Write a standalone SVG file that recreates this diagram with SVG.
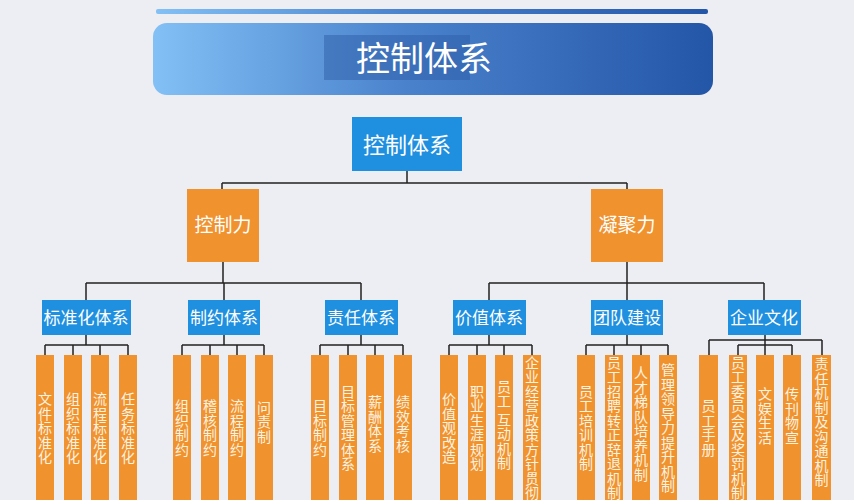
<svg xmlns="http://www.w3.org/2000/svg" width="854" height="500" viewBox="0 0 854 500">
<defs>
<linearGradient id="g" x1="0" x2="1" y1="0" y2="0"><stop offset="0" stop-color="#82c0f5"/><stop offset="0.45" stop-color="#4a82cc"/><stop offset="1" stop-color="#2456a8"/></linearGradient>
<style>
.b{fill:#1f8fe0}.o{fill:#f0922e}
.t{font-family:"Noto Sans CJK SC",sans-serif;fill:#fff;text-anchor:middle}
.l{font-family:"Noto Sans CJK SC",sans-serif;fill:#fdf3e0;font-size:14px;writing-mode:vertical-rl;text-anchor:middle;letter-spacing:0.5px}
.c{stroke:#222;stroke-width:1.5;fill:none}
</style>
</defs>
<rect width="854" height="500" fill="#eceef3"/>
<rect x="156" y="9" width="552" height="5" rx="2" fill="url(#g)"/>
<rect x="153" y="23" width="560" height="72" rx="14" fill="url(#g)"/>
<rect x="324" y="35" width="146" height="45" fill="#2d5ea8" opacity="0.5"/>
<text class="t" x="424" y="71" font-size="34">控制体系</text>
<g id="connectors" class="c">
<path d="M407 171V183M222 183H627M222 183V189M627 183V189"/>
<path d="M223 262V283M86 283H361M86 283V300M224 283V300M361 283V300"/>
<path d="M627 262V283M489 283H764M489 283V300M627 283V300M764 283V300"/>
<path d="M86 335V345M45 345H128M45 345V355M73 345V355M100 345V355M128 345V355"/>
<path d="M224 335V345M182 345H264M182 345V355M210 345V355M237 345V355M264 345V355"/>
<path d="M361 335V345M320 345H403M320 345V355M348 345V355M375 345V355M403 345V355"/>
<path d="M489 335V345M449 345H532M449 345V355M477 345V355M504 345V355M532 345V355"/>
<path d="M627 335V345M586 345H668M586 345V355M614 345V355M641 345V355M668 345V355"/>
<path d="M765 335V340M709 340H822M709 340V355M822 340V355M738 345H792M738 345V355M765 340V355M792 345V355"/>
</g>
<g id="n0"><rect class="b" x="352" y="117" width="110" height="54"/><text class="t" x="407" y="153" font-size="22">控制体系</text></g>
<g id="n1"><rect class="o" x="187" y="189" width="72" height="73"/><text class="t" x="223" y="232" font-size="19">控制力</text></g>
<g id="n2"><rect class="o" x="591" y="189" width="72" height="73"/><text class="t" x="627" y="232" font-size="19">凝聚力</text></g>
<g id="n3"><rect class="b" x="42" y="300" width="89" height="35"/><text class="t" x="86" y="324" font-size="17">标准化体系</text></g>
<g id="n4"><rect class="b" x="188" y="300" width="72" height="35"/><text class="t" x="224" y="324" font-size="17">制约体系</text></g>
<g id="n5"><rect class="b" x="325" y="300" width="73" height="35"/><text class="t" x="361" y="324" font-size="17">责任体系</text></g>
<g id="n6"><rect class="b" x="453" y="300" width="73" height="35"/><text class="t" x="489" y="324" font-size="17">价值体系</text></g>
<g id="n7"><rect class="b" x="591" y="300" width="72" height="35"/><text class="t" x="627" y="324" font-size="17">团队建设</text></g>
<g id="n8"><rect class="b" x="728" y="300" width="73" height="35"/><text class="t" x="764" y="324" font-size="17">企业文化</text></g>
<g id="leaves">
<g id="l1"><rect class="o" x="36" y="355" width="18" height="150"/><text class="l" x="45" y="428">文件标准化</text></g>
<g id="l2"><rect class="o" x="64" y="355" width="18" height="150"/><text class="l" x="73" y="428">组织标准化</text></g>
<g id="l3"><rect class="o" x="91" y="355" width="18" height="150"/><text class="l" x="100" y="428">流程标准化</text></g>
<g id="l4"><rect class="o" x="119" y="355" width="18" height="150"/><text class="l" x="128" y="428">任务标准化</text></g>
<g id="l5"><rect class="o" x="173" y="355" width="18" height="150"/><text class="l" x="182" y="428">组织制约</text></g>
<g id="l6"><rect class="o" x="201" y="355" width="18" height="150"/><text class="l" x="210" y="428">稽核制约</text></g>
<g id="l7"><rect class="o" x="228" y="355" width="18" height="150"/><text class="l" x="237" y="428">流程制约</text></g>
<g id="l8"><rect class="o" x="255" y="355" width="18" height="150"/><text class="l" x="264" y="422">问责制</text></g>
<g id="l9"><rect class="o" x="311" y="355" width="18" height="150"/><text class="l" x="320" y="428">目标制约</text></g>
<g id="l10"><rect class="o" x="339" y="355" width="18" height="150"/><text class="l" x="348" y="428">目标管理体系</text></g>
<g id="l11"><rect class="o" x="366" y="355" width="18" height="150"/><text class="l" x="375" y="424">薪酬体系</text></g>
<g id="l12"><rect class="o" x="394" y="355" width="18" height="150"/><text class="l" x="403" y="424">绩效考核</text></g>
<g id="l13"><rect class="o" x="440" y="355" width="18" height="150"/><text class="l" x="449" y="428">价值观改造</text></g>
<g id="l14"><rect class="o" x="468" y="355" width="18" height="150"/><text class="l" x="477" y="428">职业生涯规划</text></g>
<g id="l15"><rect class="o" x="495" y="355" width="18" height="150"/><text class="l" x="504" y="425">员工 互动机制</text></g>
<g id="l16"><rect class="o" x="523" y="355" width="18" height="150"/><text class="l" x="532" y="428">企业经营政策方针贯彻</text></g>
<g id="l17"><rect class="o" x="577" y="355" width="18" height="150"/><text class="l" x="586" y="428">员工培训机制</text></g>
<g id="l18"><rect class="o" x="605" y="355" width="18" height="150"/><text class="l" x="614" y="428">员工招聘转正辞退机制</text></g>
<g id="l19"><rect class="o" x="632" y="355" width="18" height="150"/><text class="l" x="641" y="424">人才梯队培养机制</text></g>
<g id="l20"><rect class="o" x="659" y="355" width="18" height="150"/><text class="l" x="668" y="428">管理领导力提升机制</text></g>
<g id="l21"><rect class="o" x="699" y="355" width="19" height="150"/><text class="l" x="708.5" y="428">员工手册</text></g>
<g id="l22"><rect class="o" x="729" y="355" width="18" height="150"/><text class="l" x="738" y="428">员工委员会及奖罚机制</text></g>
<g id="l23"><rect class="o" x="756" y="355" width="18" height="150"/><text class="l" x="765" y="416">文娱生活</text></g>
<g id="l24"><rect class="o" x="783" y="355" width="18" height="150"/><text class="l" x="792" y="416">传刊物宣</text></g>
<g id="l25"><rect class="o" x="812" y="355" width="19" height="150"/><text class="l" x="821.5" y="422">责任机制及沟通机制</text></g>
</g>
</svg>
